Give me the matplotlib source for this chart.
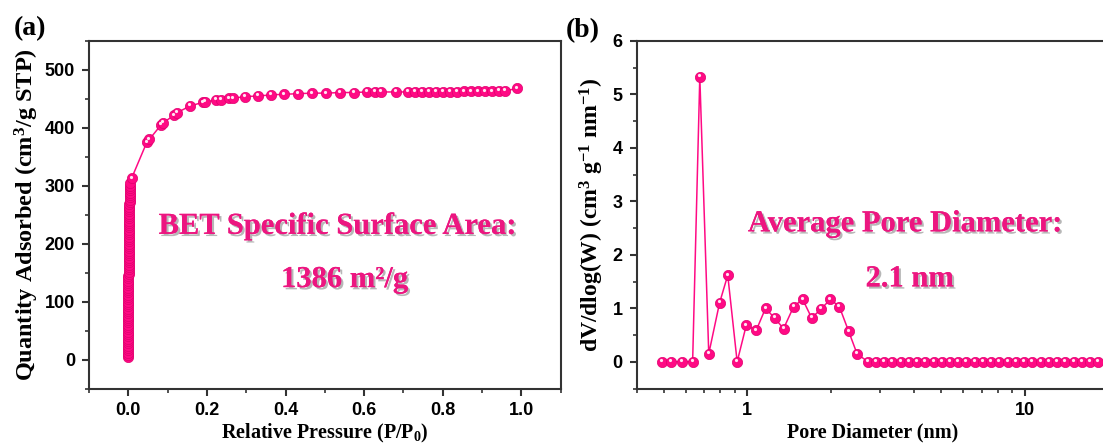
import numpy as np
import matplotlib
matplotlib.use("Agg")
import matplotlib.pyplot as plt
import matplotlib.ticker as mticker
import matplotlib.transforms as mtransforms
import matplotlib.patheffects as pe

plt.rcParams['font.family'] = ['Liberation Sans', 'DejaVu Sans']
plt.rcParams['mathtext.fontset'] = 'custom'
plt.rcParams['mathtext.rm'] = 'Liberation Serif:bold'
plt.rcParams['mathtext.it'] = 'Liberation Serif:bold'
plt.rcParams['mathtext.bf'] = 'Liberation Serif:bold'

# ---------------- data: panel (a) N2 isotherm ----------------
# low-pressure (micropore filling) branch
p_low = [
    0.0000, 0.0000, 0.0000, 0.0000, 0.0000, 0.0000, 0.0000, 0.0000, 0.0000, 0.0000,
    0.0000, 0.0000, 0.0000, 0.0000, 0.0000, 0.0000, 0.0000, 0.0000, 0.0000, 0.0000,
    0.0000, 0.0000, 0.0000, 0.0000, 0.0000,
    0.0001, 0.0001, 0.0001, 0.0002, 0.0002, 0.0002, 0.0003, 0.0003, 0.0003, 0.0004,
    0.0004, 0.0005, 0.0005, 0.0006, 0.0006,
    0.0007, 0.0007, 0.0008, 0.0008, 0.0009, 0.0010, 0.0010, 0.0011, 0.0012, 0.0013,
    0.0014, 0.0015, 0.0016, 0.0017, 0.0018,
    0.0019, 0.0020, 0.0021, 0.0022, 0.0023, 0.0024, 0.0025, 0.0026, 0.0027, 0.0028,
    0.0029, 0.0030, 0.0031, 0.0032, 0.0033, 0.0034, 0.0035, 0.0036, 0.0038, 0.0040,
    0.0042]
q_low = [
    4, 8, 12, 16, 20, 24, 28, 32, 36, 40,
    44, 48, 52, 56, 60, 64, 68, 72, 76, 80,
    84, 88, 92, 96, 100,
    104, 108, 112, 116, 120, 124, 128, 132, 136, 140,
    144, 148, 152, 156, 160,
    164, 168, 172, 176, 180, 184, 188, 192, 196, 200,
    204, 208, 212, 216, 220,
    224, 228, 232, 236, 240, 244, 248, 252, 256, 260,
    264, 268, 272, 276, 280, 284, 288, 292, 296, 300,
    304]
# higher-pressure branch
p_high = [
    0.0084, 0.047, 0.0535, 0.083, 0.089, 0.117, 0.123, 0.158, 0.189, 0.196,
    0.223, 0.236, 0.257, 0.266, 0.296, 0.330, 0.364, 0.397, 0.431, 0.468,
    0.504, 0.539, 0.573, 0.607, 0.627, 0.644, 0.680, 0.712, 0.730, 0.748,
    0.765, 0.783, 0.801, 0.819, 0.837, 0.855, 0.873, 0.890, 0.908, 0.926,
    0.944, 0.958, 0.989]
q_high = [
    313, 375, 380, 405, 409, 422, 426, 438, 444, 445,
    448, 448, 451, 451, 454, 455, 457, 458, 459, 460,
    460, 461, 461, 462, 462, 462, 462, 462, 462, 462,
    462, 462, 462, 462, 462, 463, 463, 463, 463, 463,
    464, 464, 468]

# ---------------- data: panel (b) pore size distribution ----------------
pore_diameter = [
    0.494, 0.532, 0.583, 0.636, 0.675, 0.727, 0.795, 0.851, 0.920, 0.992,
    1.078, 1.164, 1.254, 1.352, 1.469, 1.583, 1.706, 1.849, 1.992, 2.147,
    2.319, 2.486, 2.72, 2.91, 3.11, 3.33, 3.57, 3.82, 4.09, 4.38,
    4.69, 5.02, 5.37, 5.75, 6.16, 6.59, 7.06, 7.56, 8.09, 8.66,
    9.27, 9.93, 10.6, 11.4, 12.2, 13.0, 14.0, 15.0, 16.0, 17.1,
    18.4]
dv_dlogw = [
    0.0, 0.0, 0.0, 0.0, 5.33, 0.15, 1.10, 1.62, 0.0, 0.68,
    0.59, 1.00, 0.82, 0.62, 1.03, 1.17, 0.82, 0.99, 1.17, 1.03,
    0.57, 0.15, 0.0, 0.0, 0.0, 0.0, 0.0, 0.0, 0.0, 0.0,
    0.0, 0.0, 0.0, 0.0, 0.0, 0.0, 0.0, 0.0, 0.0, 0.0,
    0.0, 0.0, 0.0, 0.0, 0.0, 0.0, 0.0, 0.0, 0.0, 0.0,
    0.0]

xticks_a = [0.0, 0.2, 0.4, 0.6, 0.8, 1.0]
yticks_a = [0, 100, 200, 300, 400, 500]
yticks_b = [0, 1, 2, 3, 4, 5, 6]

PINK = '#FF0A84'
EDGE = '#E0006E'
TXT = '#EC1680'
SPINE = '#333333'

W, H = 1103, 446
fig = plt.figure(figsize=(W / 100, H / 100), dpi=100)


def px_axes(l, r, b, t):
    return fig.add_axes([l / W, 1 - b / H, (r - l) / W, (b - t) / H])


ax1 = px_axes(89, 560.7, 388.5, 41)
ax2 = px_axes(636.7, 1108.5, 388.5, 41)


def line_and_balls(ax, x, y):
    ax.plot(x, y, '-', color=PINK, lw=1.1, zorder=2)
    ax.plot(x, y, 'o', ms=7.4, mfc=PINK, mec=EDGE, mew=0.5, zorder=3)


def highlights(ax, x, y):
    off = mtransforms.offset_copy(ax.transData, fig=fig, x=-1.0, y=1.6, units='dots')
    ax.plot(x, y, 'o', ms=2.3, mfc='#FFE6F2', mec='none', transform=off, zorder=4)


line_and_balls(ax1, p_low + p_high, q_low + q_high)
highlights(ax1, p_high, q_high)
line_and_balls(ax2, pore_diameter, dv_dlogw)
highlights(ax2, pore_diameter, dv_dlogw)

for ax in (ax1, ax2):
    for s in ax.spines.values():
        s.set_linewidth(1.5)
        s.set_color(SPINE)
    ax.tick_params(which='major', direction='out', length=5, width=1.5, color=SPINE,
                   labelsize=13, pad=5)
    ax.tick_params(which='minor', direction='out', length=3, width=1.2, color=SPINE)
    ax.tick_params(top=False, right=False, which='both')

ax1.set_xlim(-0.1, 1.1)
ax1.set_ylim(-50, 550)
ax1.set_xticks(xticks_a)
ax1.set_xticklabels([f'{v:.1f}' for v in xticks_a], fontweight='bold')
ax1.set_yticks(yticks_a)
ax1.set_yticklabels([str(v) for v in yticks_a], fontweight='bold')
ax1.xaxis.set_minor_locator(mticker.MultipleLocator(0.1))
ax1.yaxis.set_minor_locator(mticker.MultipleLocator(50))

ax2.set_xscale('log')
ax2.set_xlim(0.4, 20)
ax2.set_ylim(-0.5, 6)
ax2.set_yticks(yticks_b)
ax2.set_yticklabels([str(v) for v in yticks_b], fontweight='bold')
ax2.yaxis.set_minor_locator(mticker.MultipleLocator(0.5))
ax2.xaxis.set_major_locator(mticker.FixedLocator([1, 10]))
ax2.xaxis.set_major_formatter(mticker.FixedFormatter(['1', '10']))
ax2.xaxis.set_minor_locator(mticker.LogLocator(base=10, subs=np.arange(2, 10)))
ax2.xaxis.set_minor_formatter(mticker.NullFormatter())
for lab in ax2.get_xticklabels():
    lab.set_fontweight('bold')

serif = ['Liberation Serif', 'DejaVu Serif']
ax1.set_xlabel(r'Relative Pressure (P/P$_0$)', family=serif, fontweight='bold',
               fontsize=14.5, labelpad=2)
ax1.set_ylabel(r'Quantity Adsorbed (cm$^3$/g STP)', family=serif, fontweight='bold',
               fontsize=17.5, labelpad=3)
ax2.set_xlabel('Pore Diameter (nm)', family=serif, fontweight='bold',
               fontsize=14.5, labelpad=2)
ax2.set_ylabel(r'dV/dlog(W) (cm$^3$ g$^{-1}$ nm$^{-1}$)', family=serif, fontweight='bold',
               fontsize=17, labelpad=5)

shadow = [pe.withSimplePatchShadow(offset=(1.6, -1.6), shadow_rgbFace='#888888', alpha=0.6),
          pe.Normal()]
kw = dict(family=serif, fontweight='bold', fontsize=22, color=TXT, ha='center',
          va='center', path_effects=shadow)
ax1.text(0.532, 230, 'BET Specific Surface Area:', **kw)
ax1.text(0.55, 138, '1386 m²/g', **kw)
ax2.text(3.7, 2.58, 'Average Pore Diameter:', **kw)
ax2.text(3.85, 1.55, '2.1 nm', **kw)

fig.text(14 / W, 1 - 29 / H, '(a)', family=serif, fontweight='bold', fontsize=20,
         ha='left', va='center')
fig.text(566 / W, 1 - 31 / H, '(b)', family=serif, fontweight='bold', fontsize=20,
         ha='left', va='center')

fig.savefig('out.png', dpi=100)
